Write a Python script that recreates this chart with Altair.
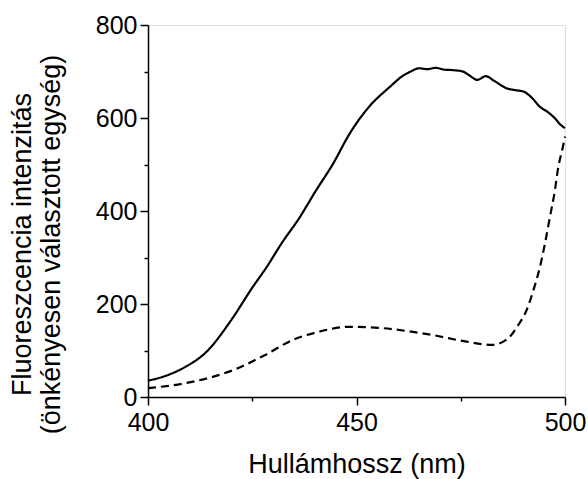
import altair as alt
import pandas as pd

# Solid curve
wl_solid = [400, 405, 409, 414, 420, 425, 428.5, 432, 436.5, 440, 444.4, 448.4, 453,
            458, 461, 463, 465, 467, 469, 471, 473, 475.5, 477, 479, 481, 483, 486,
            488, 490, 492, 494, 496, 497.5, 499, 500]
int_solid = [35, 48, 65, 97, 166, 235, 280, 330, 388, 440, 502, 567, 624,
             667, 690, 700, 707, 705, 708, 704, 703, 700, 692, 682, 690, 680, 664,
             660, 657, 644, 624, 612, 600, 585, 578]

# Dashed curve
wl_dash = [400, 408.5, 415, 420.5, 428, 434.8, 440, 448.4, 456.4, 462, 468.4, 476.4,
           482.4, 485, 486.8, 488.8, 490.8, 492.5, 494, 495.3, 496.4, 497.5, 498.4,
           499.3, 500]
int_dash = [19, 29, 42, 58, 90, 123, 138, 151, 148, 142, 133, 119,
            112, 118, 130, 155, 187, 232, 280, 335, 388, 440, 495,
            530, 560]

x_ticks = [400, 425, 450, 475, 500]
y_ticks = [0, 100, 200, 300, 400, 500, 600, 700, 800]

df = pd.concat([
    pd.DataFrame({"wl": wl_solid, "val": int_solid, "series": "solid"}),
    pd.DataFrame({"wl": wl_dash, "val": int_dash, "series": "dashed"}),
], ignore_index=True)

FONT = "Liberation Sans"

x_axis = alt.Axis(
    values=x_ticks,
    labelExpr="datum.value % 50 === 0 ? datum.label : ''",
    tickSize={"condition": {"test": "datum.value % 50 === 0", "value": 8}, "value": 4},
    labelFontSize=25, labelFont=FONT, labelColor="black", labelPadding=5,
    tickColor="black", tickWidth=1.5, domainColor="black", domainWidth=1.5,
    grid=False,
    title="Hullámhossz (nm)", titleFontSize=27, titleFont=FONT, titleFontWeight="normal",
    titleColor="black", titleY=75, titleBaseline="alphabetic",
    labelFlush=False,
)

y_axis = alt.Axis(
    values=y_ticks,
    labelExpr="datum.value % 200 === 0 ? datum.label : ''",
    tickSize={"condition": {"test": "datum.value % 200 === 0", "value": 8}, "value": 4},
    labelFontSize=25, labelFont=FONT, labelColor="black", labelPadding=3,
    tickColor="black", tickWidth=1.5, domainColor="black", domainWidth=1.5,
    grid=False,
    title=["Fluoreszcencia intenzitás", "(önkényesen választott egység)"],
    titleFontSize=27, titleFont=FONT, titleFontWeight="normal", titleColor="black",
    titleAngle=-90, titleAlign="center", titleBaseline="top", titleLineHeight=29,
    titleX=-139, titleY=219,
    labelFlush=False,
)

chart = alt.Chart(df).mark_line(color="black", strokeWidth=2.2, interpolate="monotone").encode(
    x=alt.X("wl:Q", scale=alt.Scale(domain=[400, 500], nice=False, zero=False), axis=x_axis),
    y=alt.Y("val:Q", scale=alt.Scale(domain=[0, 800], nice=False), axis=y_axis),
    detail="series:N",
    strokeDash=alt.StrokeDash(
        "series:N",
        scale=alt.Scale(domain=["solid", "dashed"], range=[[1, 0], [8, 5]]),
        legend=None,
    ),
).properties(
    width=417,
    height=372,
    autosize=alt.AutoSizeParams(type="none"),
    padding={"left": 148, "top": 25, "right": 23, "bottom": 82},
).configure_view(
    stroke="black", strokeWidth=1.5
).configure(background="white")

chart.save("out.html", embed_options={"renderer": "svg", "actions": False})
